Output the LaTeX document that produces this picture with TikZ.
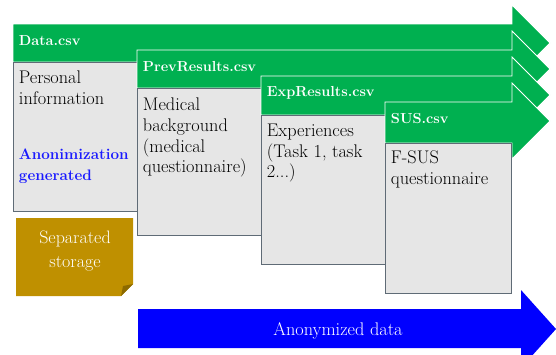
\documentclass[tikz,border=0pt]{standalone}
\usepackage{fontspec}
\usepackage{tikz}
\usepackage{xcolor}

\definecolor{csvgreen}{HTML}{00B050}
\definecolor{boxgray}{HTML}{E6E6E6}
\definecolor{boxline}{HTML}{5F6B76}
\definecolor{storegold}{HTML}{BF9000}
\definecolor{storefold}{HTML}{8C6A00}
\definecolor{anonblue}{HTML}{1A1AFF}

\begin{document}
\begin{tikzpicture}[x=1pt,y=1pt,yscale=-1,xscale=1,
  csvarrow/.style={fill=csvgreen, draw=white, line width=0.8pt, line join=miter},
  databox/.style={fill=boxgray, draw=boxline, line width=1pt},
  csvlabel/.style={anchor=west, inner sep=0.75pt, text=white, font=\fontsize{14.5}{17}\selectfont\bfseries},
  boxtext/.style={anchor=north west, inner sep=0.75pt, align=left, font=\fontsize{18.3}{20.7}\selectfont}]
\useasboundingbox (0,0) rectangle (556,354);
\clip (0,0) rectangle (556,354);

%Shape: Arrow [Data.csv]
\draw [csvarrow] (13,24) -- (512,24) -- (512,5) -- (550,43) -- (512,81) -- (512,62) -- (13,62) -- cycle ;
%Shape: Rectangle
\draw [databox] (13,62) rectangle (137,211) ;
%Shape: Arrow [PrevResults.csv]
\draw [csvarrow] (137,50) -- (512,50) -- (512,31) -- (550,69) -- (512,107) -- (512,88) -- (137,88) -- cycle ;
%Shape: Rectangle
\draw [databox] (137,88) rectangle (261,235) ;
%Shape: Arrow [ExpResults.csv]
\draw [csvarrow] (261,76) -- (512,76) -- (512,57) -- (550,95) -- (512,133) -- (512,115) -- (261,115) -- cycle ;
%Shape: Rectangle
\draw [databox] (261,115) rectangle (385,264) ;
%Shape: Arrow [SUS.csv]
\draw [csvarrow] (385,102) -- (512,102) -- (512,83) -- (550,121) -- (512,159) -- (512,143) -- (385,143) -- cycle ;
%Shape: Rectangle
\draw [databox] (385,143) rectangle (511,293) ;

%Shape: Folded corner
\fill [storegold] (16,218) -- (133,218) -- (133,284) -- (121,296) -- (16,296) -- cycle ;
\fill [storefold] (121,296) -- (123,286) -- (133,284) -- cycle ;

%Shape: Arrow [Anonymized]
\fill [blue] (138,309) -- (521,309) -- (521,290) -- (556,329) -- (521,368) -- (521,348) -- (138,348) -- cycle ;

% Text Node
\draw (18,41) node [csvlabel] (data) {Data.csv};
% Text Node
\draw (142,67) node [csvlabel] (prev) {PrevResults.csv};
% Text Node
\draw (266,93) node [csvlabel] (exp) {ExpResults.csv};
% Text Node
\draw (390,119) node [csvlabel] (sus) {SUS.csv};

% Text Node
\draw (18,70) node [boxtext] (personal) {Personal\\information};
% Text Node
\draw (18,148) node [boxtext, text=anonblue, font=\fontsize{15.2}{21}\selectfont\bfseries] (anon) {Anonimization\\generated};
% Text Node
\draw (142,97) node [boxtext] (medical) {Medical\\background\\(medical\\questionnaire)};
% Text Node
\draw (266,123) node [boxtext] (tasks) {Experiences\\(Task 1, task\\2...)};
% Text Node
\draw (390,150) node [boxtext] (fsus) {F-SUS\\questionnaire};

% Text Node
\draw (75,251) node [align=center, text=white, inner sep=0.75pt, font=\fontsize{18}{24}\selectfont] (storage) {Separated\\storage};
% Text Node
\draw (338,331) node [text=white, inner sep=0.75pt, font=\fontsize{18.3}{20.5}\selectfont] (anonymized) {Anonymized data};
\end{tikzpicture}
\end{document}
